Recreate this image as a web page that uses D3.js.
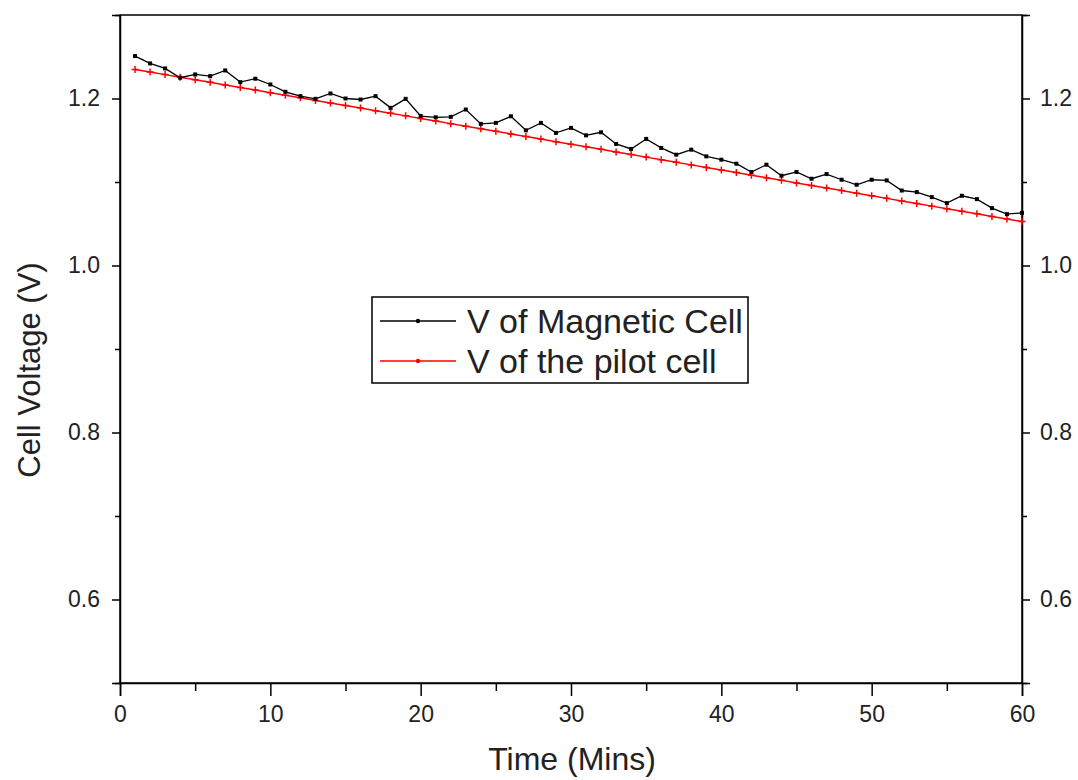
<!DOCTYPE html>
<html>
<head>
<meta charset="utf-8">
<script src="https://cdn.jsdelivr.net/npm/d3@7"></script>
<style>
  html, body { margin: 0; padding: 0; background: #fff; }
  svg { display: block; font-family: "Liberation Sans", Arial, sans-serif; }
</style>
</head>
<body>
<svg id="chart" width="1078" height="780"></svg>
<script>
const times = d3.range(1, 61);
const magneticCell = [
  1.2508, 1.2420, 1.2360, 1.2249, 1.2288, 1.2268, 1.2336, 1.2196, 1.2237, 1.2168,
  1.2080, 1.2028, 1.1996, 1.2060, 1.2000, 1.1988, 1.2028, 1.1888, 1.1996, 1.1790,
  1.1775, 1.1780, 1.1868, 1.1696, 1.1708, 1.1787, 1.1619, 1.1708, 1.1588, 1.1648,
  1.1559, 1.1595, 1.1456, 1.1396, 1.1516, 1.1408, 1.1327, 1.1387, 1.1307, 1.1267,
  1.1219, 1.1120, 1.1207, 1.1075, 1.1120, 1.1039, 1.1095, 1.1027, 1.0967, 1.1027,
  1.1019, 1.0898, 1.0879, 1.0819, 1.0747, 1.0835, 1.0795, 1.0687, 1.0615, 1.0631
];
const pilotCell = [
  1.2348, 1.2317, 1.2286, 1.2255, 1.2224, 1.2194, 1.2163, 1.2132, 1.2101, 1.2070,
  1.2039, 1.2008, 1.1977, 1.1946, 1.1916, 1.1885, 1.1854, 1.1823, 1.1792, 1.1761,
  1.1730, 1.1699, 1.1669, 1.1638, 1.1607, 1.1576, 1.1545, 1.1514, 1.1483, 1.1452,
  1.1422, 1.1391, 1.1360, 1.1329, 1.1298, 1.1267, 1.1236, 1.1205, 1.1174, 1.1144,
  1.1113, 1.1082, 1.1051, 1.1020, 1.0989, 1.0958, 1.0927, 1.0897, 1.0866, 1.0835,
  1.0804, 1.0773, 1.0742, 1.0711, 1.0680, 1.0650, 1.0619, 1.0588, 1.0557, 1.0526
];
const xTicks = [0, 10, 20, 30, 40, 50, 60];
const xMinorTicks = [5, 15, 25, 35, 45, 55];
const yTicks = [0.6, 0.8, 1.0, 1.2];
const yMinorTicks = [0.5, 0.7, 0.9, 1.1, 1.3];
const seriesNames = ["V of Magnetic Cell", "V of the pilot cell"];

const svg = d3.select("#chart");
const L = 120, R = 1022, T = 15, B = 683;
const x = d3.scaleLinear().domain([0, 60]).range([L, R]);
const y = d3.scaleLinear().domain([0.5, 1.3]).range([B, T]);
const textColor = "#222";

// frame
svg.append("rect").attr("x", L).attr("y", T).attr("width", R - L).attr("height", B - T)
  .attr("fill", "none").attr("stroke", "#000").attr("stroke-width", 1.5);

function styleAxis(g) {
  g.select(".domain").attr("stroke", "#000").attr("stroke-width", 1.5);
  g.selectAll(".tick line").attr("stroke", "#000").attr("stroke-width", 1.5);
  g.selectAll(".tick text").attr("fill", textColor).style("font-size", "23px");
}

// bottom axis
const gx = svg.append("g").attr("transform", `translate(0,${B})`)
  .call(d3.axisBottom(x).tickValues(xTicks).tickSize(13).tickPadding(10).tickFormat(d3.format("d")));
styleAxis(gx);
svg.append("g").attr("transform", `translate(0,${B})`)
  .call(d3.axisBottom(x).tickValues(xMinorTicks).tickSize(8).tickFormat(""))
  .call(g => { g.select(".domain").remove(); g.selectAll("line").attr("stroke", "#000").attr("stroke-width", 1.5); });

// left axis
const gy = svg.append("g").attr("transform", `translate(${L},0)`)
  .call(d3.axisLeft(y).tickValues(yTicks).tickSize(8).tickPadding(12).tickFormat(d3.format(".1f")));
styleAxis(gy);
svg.append("g").attr("transform", `translate(${L},0)`)
  .call(d3.axisLeft(y).tickValues(yMinorTicks).tickSize(5).tickFormat(""))
  .call(g => { g.select(".domain").remove(); g.selectAll("line").attr("stroke", "#000").attr("stroke-width", 1.5); });

// right axis
const gr = svg.append("g").attr("transform", `translate(${R},0)`)
  .call(d3.axisRight(y).tickValues(yTicks).tickSize(8).tickPadding(10).tickFormat(d3.format(".1f")));
styleAxis(gr);
svg.append("g").attr("transform", `translate(${R},0)`)
  .call(d3.axisRight(y).tickValues(yMinorTicks).tickSize(5).tickFormat(""))
  .call(g => { g.select(".domain").remove(); g.selectAll("line").attr("stroke", "#000").attr("stroke-width", 1.5); });

// axis titles
svg.append("text").attr("x", 572).attr("y", 770).attr("text-anchor", "middle")
  .attr("fill", textColor).style("font-size", "32px").text("Time (Mins)");
svg.append("text").attr("transform", "translate(40,370) rotate(-90)").attr("text-anchor", "middle")
  .attr("fill", textColor).style("font-size", "31px").text("Cell Voltage (V)");

// lines
const line = d3.line().x(d => x(d[0])).y(d => y(d[1]));
const pilotData = times.map((t, i) => [t, pilotCell[i]]);
const magData = times.map((t, i) => [t, magneticCell[i]]);

svg.append("path").datum(pilotData).attr("d", line)
  .attr("fill", "none").attr("stroke", "#ff0000").attr("stroke-width", 1.5);
svg.append("g").selectAll("path").data(pilotData).join("path")
  .attr("d", d => `M${x(d[0]) - 3.5},${y(d[1])}h7M${x(d[0])},${y(d[1]) - 3.5}v7`)
  .attr("stroke", "#ff0000").attr("stroke-width", 1.5);

svg.append("path").datum(magData).attr("d", line)
  .attr("fill", "none").attr("stroke", "#000").attr("stroke-width", 1.3);
svg.append("g").selectAll("rect").data(magData).join("rect")
  .attr("x", d => x(d[0]) - 2).attr("y", d => y(d[1]) - 2)
  .attr("width", 4).attr("height", 4).attr("fill", "#000");

// legend
const lg = svg.append("g");
lg.append("rect").attr("x", 372).attr("y", 297).attr("width", 376).attr("height", 86)
  .attr("fill", "#fff").attr("stroke", "#000").attr("stroke-width", 1.5);
const legColors = ["#000", "#ff0000"];
seriesNames.forEach((name, i) => {
  const yy = 321 + i * 40;
  lg.append("line").attr("x1", 380).attr("x2", 456).attr("y1", yy).attr("y2", yy)
    .attr("stroke", legColors[i]).attr("stroke-width", 1.5);
  lg.append("circle").attr("cx", 418).attr("cy", yy).attr("r", 2.2).attr("fill", legColors[i]);
  lg.append("text").attr("x", 467).attr("y", yy + 12).attr("fill", textColor)
    .style("font-size", "34px").text(name);
});
</script>
</body>
</html>
